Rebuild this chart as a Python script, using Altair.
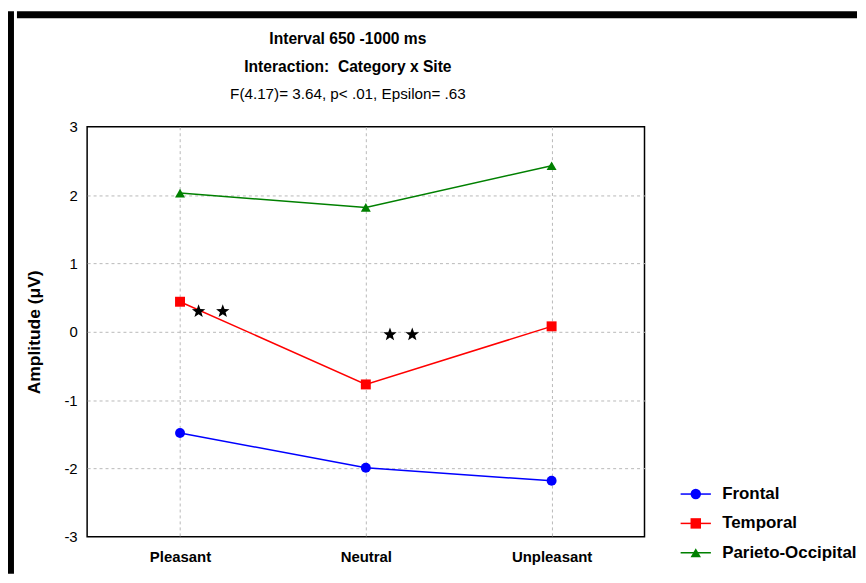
import math
import altair as alt
import pandas as pd

# ---------------- data ----------------
categories = ["Pleasant", "Neutral", "Unpleasant"]
sites = ["Frontal", "Temporal", "Parieto-Occipital"]
frontal = [-1.48, -1.99, -2.18]
temporal = [0.44, -0.77, 0.08]
parieto = [2.03, 1.82, 2.43]
star_x = [0.10, 0.23, 1.13, 1.25]
star_y = [0.30, 0.30, -0.04, -0.04]
y_ticks = [-3, -2, -1, 0, 1, 2, 3]
x_ticks = [0, 1, 2]

title_lines = ["Interval 650 -1000 ms", "Interaction:\u00a0 Category x Site"]
subtitle = "F(4.17)= 3.64, p< .01, Epsilon= .63"

colors = ["#0000ff", "#ff0000", "#008000"]
shapes = ["circle", "square", "triangle-up"]
FONT = "Liberation Sans"

rows = []
for site, vals in zip(sites, [frontal, temporal, parieto]):
    for i, (c, v) in enumerate(zip(categories, vals)):
        rows.append({"site": site, "idx": i, "category": c, "value": v})
df = pd.DataFrame(rows)
stars = pd.DataFrame({"idx": star_x, "value": star_y})

# star symbol path (unit box)
pts = []
for k in range(10):
    a = math.radians(-90 + 36 * k)
    r = 1.0 if k % 2 == 0 else 0.42
    pts.append(f"{r * math.cos(a):.3f},{r * math.sin(a):.3f}")
star_path = "M" + "L".join(pts) + "Z"

label_expr = "[" + ",".join(f"'{c}'" for c in categories) + "][datum.value]"

x_enc = alt.X(
    "idx:Q",
    scale=alt.Scale(domain=[-0.5, 2.5], nice=False, zero=False),
    axis=alt.Axis(
        values=x_ticks, labelExpr=label_expr, title=None, grid=True,
        gridColor="#b8b8b8", gridDash=[3, 3], gridWidth=1, domain=False,
        ticks=False, tickSize=0, labelPadding=13, labelFontSize=15,
        labelFontWeight="bold", labelColor="black", labelFont=FONT,
    ),
)
y_enc = alt.Y(
    "value:Q",
    scale=alt.Scale(domain=[-3, 3], nice=False, zero=False),
    axis=alt.Axis(
        values=y_ticks, labelExpr="'' + datum.value", title="Amplitude (\u03bcV)",
        grid=True, gridColor="#b8b8b8", gridDash=[3, 3], gridWidth=1,
        gridOpacity={"condition": {"test": "abs(datum.value) == 3", "value": 0}, "value": 1},
        domain=False, ticks=False, tickSize=0, labelPadding=10,
        labelFontSize=15, labelColor="black", labelFont=FONT,
        titleFont=FONT, titleFontSize=17.5, titleFontWeight="bold",
        titleColor="black", titlePadding=21,
    ),
)

leg_common = dict(
    orient="none", legendX=682.5, legendY=476.5, title=None, padding=0,
    labelFont=FONT, labelFontSize=17, labelFontWeight="bold",
    labelColor="black", labelLimit=300, rowPadding=11.5, symbolSize=110,
    symbolStrokeWidth=1.5, labelOffset=18,
)
legend_lines = alt.Legend(symbolType="M-2.9,0H2.9", **leg_common)
legend_marks = alt.Legend(labelOpacity=0, **leg_common)

lines = alt.Chart(df).mark_line(strokeWidth=1.5).encode(
    x=x_enc, y=y_enc,
    color=alt.Color("site:N", sort=sites, scale=alt.Scale(range=colors), legend=legend_lines),
)
points = alt.Chart(df).mark_point(filled=True, size=100, opacity=1).encode(
    x=x_enc, y=y_enc,
    fill=alt.Fill("site:N", scale=alt.Scale(domain=sites, range=colors), legend=legend_marks),
    shape=alt.Shape("site:N", scale=alt.Scale(domain=sites, range=shapes), legend=legend_marks),
)
star_layer = alt.Chart(stars).mark_point(
    shape=star_path, filled=True, color="black", size=200, opacity=1
).encode(x=alt.X("idx:Q"), y=alt.Y("value:Q"))

main = alt.layer(lines, points, star_layer).properties(
    width=560, height=412,
    title=alt.Title(
        text=title_lines, subtitle=subtitle, font=FONT, fontSize=15.7,
        fontWeight="bold", color="black", lineHeight=28, subtitleFont=FONT,
        subtitleFontSize=15.3, subtitleFontWeight="normal", subtitleColor="black",
        subtitlePadding=11, anchor="middle", dx=-18, offset=17,
    ),
    view=alt.ViewBackground(stroke="black", strokeWidth=1.5, fill="white"),
)


def block(w, h, fill):
    return alt.Chart(pd.DataFrame({"v": [0]})).mark_point(opacity=0).properties(
        width=w, height=h,
        view=alt.ViewBackground(fill=fill, stroke="transparent", strokeWidth=0),
    )


leftbar = block(6, 565, "black")
topbar = block(844, 7, "black")
gap = block(1, 1, "transparent")

inner = alt.hconcat(gap, main, spacing=2.5)
right = alt.vconcat(topbar, inner, spacing=12)
chart = alt.hconcat(leftbar, right, spacing=0).properties(
    padding={"left": 0, "top": 2, "right": 0, "bottom": 0},
    background="white",
).configure(font=FONT)

chart.save("out.html", embed_options={"renderer": "svg", "actions": False})
